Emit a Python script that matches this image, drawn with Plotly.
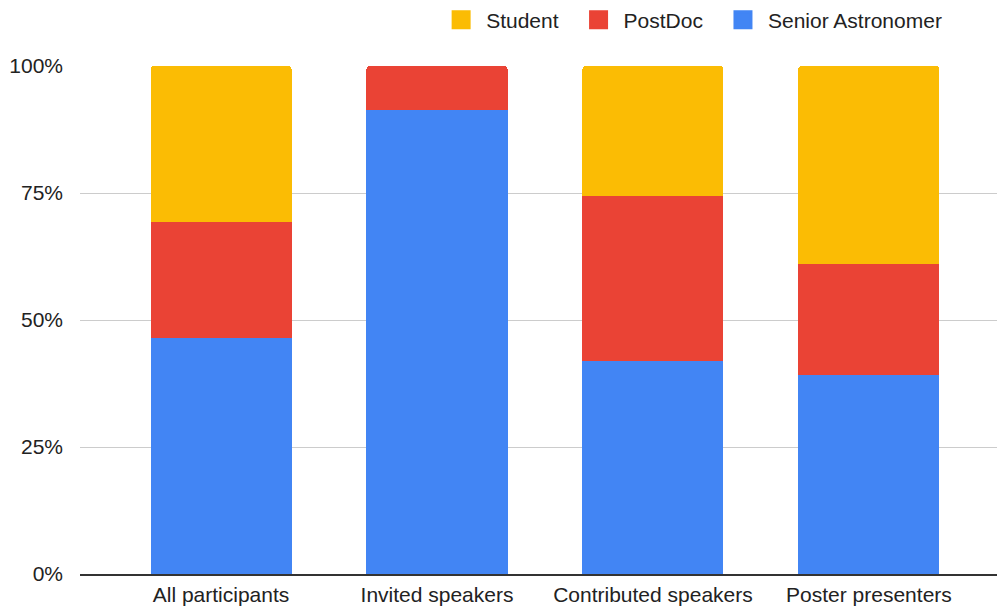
import plotly.graph_objects as go

categories = ["All participants", "Invited speakers", "Contributed speakers", "Poster presenters"]
senior = [46.5, 91.3, 41.9, 39.1]
postdoc = [22.7, 8.7, 32.6, 22.0]
student = [30.8, 0.0, 25.5, 38.9]
ytick_vals = [0, 25, 50, 75, 100]
ytick_text = ["0%", "25%", "50%", "75%", "100%"]

series = [
    ("Senior Astronomer", senior, "#4285F4"),
    ("PostDoc", postdoc, "#EA4335"),
    ("Student", student, "#FBBC04"),
]

FONT = "Liberation Sans, Arial, Helvetica, sans-serif"
PAD = "\u00a0\u2009"  # small trailing gap so legend entries are spaced like the reference

fig = go.Figure()
for name, vals, color in series:
    fig.add_trace(go.Bar(name=name, x=categories, y=vals, marker_color=color,
                         marker_line_width=0, legendgroup=name, showlegend=False,
                         hoverinfo="x+y+name"))
# legend entries (larger square swatches like the reference)
for name, vals, color in series:
    label = name if name == "Senior Astronomer" else name + PAD
    fig.add_trace(go.Scatter(name=label, x=[None], y=[None], mode="markers",
                             marker=dict(symbol="square", size=16, color=color,
                                         line=dict(color=color, width=3)),
                             legendgroup=name, showlegend=True, hoverinfo="skip"))

fig.update_layout(
    width=997, height=605,
    barmode="stack", bargap=0.347, barcornerradius=3,
    plot_bgcolor="white", paper_bgcolor="white",
    margin=dict(l=72, r=0, t=58, b=39),
    font=dict(family=FONT, size=21, color="#222222"),
    legend=dict(orientation="h", traceorder="reversed", x=0.385, xanchor="left",
                y=0.98, yanchor="middle", yref="container", itemwidth=40,
                font=dict(size=21, color="#222222")),
    xaxis=dict(range=[-0.653, 3.63], showline=True, linecolor="#333333", linewidth=2,
               showgrid=False, ticks="", ticklabelstandoff=1),
    yaxis=dict(range=[0, 100], tickvals=ytick_vals, ticktext=ytick_text,
               showgrid=True, gridcolor="#cccccc", gridwidth=1, zeroline=False,
               ticklabelstandoff=16),
)
fig.write_html("out.html")
